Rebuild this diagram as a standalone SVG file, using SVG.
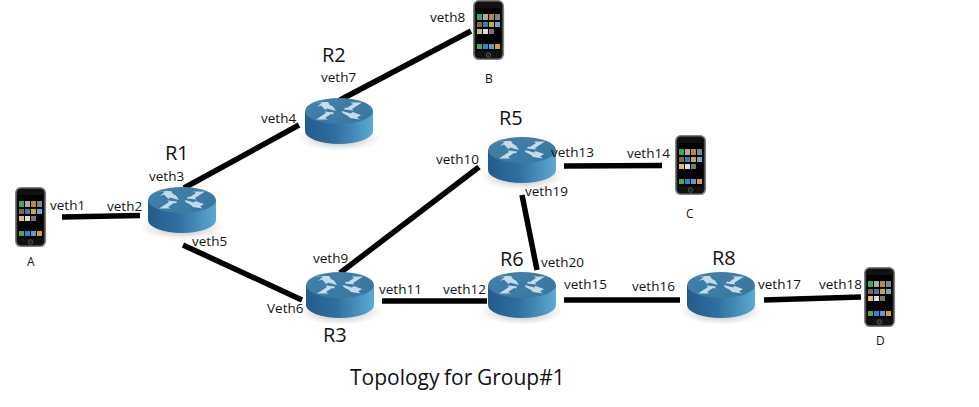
<svg xmlns="http://www.w3.org/2000/svg" width="979" height="407" viewBox="0 0 979 407">
<style>
text{font-family:"Open Sans","Liberation Sans",sans-serif;fill:#111}
.l{font-size:13.5px}.r{font-size:20px}.c{font-size:12px}.t{font-size:21px}
#connectors line{stroke:#000;stroke-width:5.5}
</style>
<defs>
<linearGradient id="side" x1="0" x2="1" y1="0" y2="0"><stop offset="0" stop-color="#245c8e"/><stop offset=".45" stop-color="#2f6f9f"/><stop offset="1" stop-color="#5caad2"/></linearGradient>
<linearGradient id="top" x1="0" x2="1" y1="0" y2="1"><stop offset="0" stop-color="#4382aa"/><stop offset="1" stop-color="#38769e"/></linearGradient>
<radialGradient id="shadow"><stop offset="0" stop-color="#777" stop-opacity=".7"/><stop offset="1" stop-color="#aaa" stop-opacity="0"/></radialGradient>
<symbol id="router" overflow="visible">
<ellipse cx="0" cy="27" rx="42" ry="13" fill="url(#shadow)"/>
<path d="M-34 0V20A34 13 0 0 0 34 20V0Z" fill="url(#side)"/>
<ellipse cx="0" cy="0" rx="34" ry="13" fill="url(#top)"/>
<g fill="#c4dcea">
<path d="M-3 0-12-2.500-13.500-1-18-5.500-22-4-17-8.500-24-9-11-9-9-6-6-4.500z"/>
<path d="M3 0 12 2.500 13.500 1 22 4 18 6.500 21 8.500 11 7 9 5 3.500 2z"/>
<path d="M-23 8.500-13 2-14.500 .5-5 1.500-6 3.500-8 3-14 7-11.500 8.500z"/>
<path d="M23-8.500 13-2 14.500-.5 5-1.500 6-3.500 8-3 14-7 11.500-8.500z"/>
</g>
</symbol>
<symbol id="phone" overflow="visible">
<rect x="0.800" y="0.800" width="29.500" height="58.500" rx="5" fill="#111" stroke="#808080" stroke-width="1.600"/>
<rect x="3" y="8" width="25" height="43" fill="#000"/>
<rect x="4" y="14" width="5" height="6" fill="#3a6"/><rect x="10" y="14" width="5" height="6" fill="#aaa"/><rect x="16" y="14" width="5" height="6" fill="#b83"/><rect x="22" y="14" width="5" height="6" fill="#789"/>
<rect x="4" y="22" width="5" height="5" fill="#864"/><rect x="10" y="22" width="5" height="5" fill="#47a"/><rect x="16" y="22" width="5" height="5" fill="#ca3"/><rect x="22" y="22" width="5" height="5" fill="#6ac"/>
<rect x="4" y="29" width="5" height="5" fill="#db7"/><rect x="10" y="29" width="5" height="5" fill="#ddd"/><rect x="16" y="29" width="5" height="5" fill="#777"/>
<rect x="4" y="44" width="5" height="5" fill="#4a5"/><rect x="10" y="44" width="5" height="5" fill="#38c"/><rect x="16" y="44" width="5" height="5" fill="#69c"/><rect x="22" y="44" width="5" height="5" fill="#d93"/>
<circle cx="15.500" cy="55" r="2.300" fill="#222" stroke="#666" stroke-width=".7"/>
</symbol>
</defs>
<rect width="979" height="407" fill="#fff"/>
<g id="connectors">
<line x1="62" y1="217" x2="140" y2="215.500"/>
<line x1="184" y1="188" x2="299" y2="125"/>
<line x1="183" y1="245" x2="302" y2="300"/>
<line x1="340" y1="100" x2="471" y2="31"/>
<line x1="340" y1="273" x2="479" y2="167"/>
<line x1="382" y1="301" x2="487" y2="301"/>
<line x1="564" y1="166" x2="662" y2="165.500"/>
<line x1="522" y1="195" x2="537" y2="270"/>
<line x1="564" y1="300" x2="680" y2="300"/>
<line x1="764" y1="300" x2="861" y2="297"/>
</g>
<g id="R1"><use href="#router" x="182" y="200"/><text class="r" x="165" y="160">R1</text></g>
<g id="R2"><use href="#router" x="339" y="111"/><text class="r" x="322" y="62">R2</text></g>
<g id="R3"><use href="#router" x="340" y="285"/><text class="r" x="323" y="342">R3</text></g>
<g id="R5"><use href="#router" x="522" y="150"/><text class="r" x="499" y="125">R5</text></g>
<g id="R6"><use href="#router" x="522" y="285"/><text class="r" x="500" y="266">R6</text></g>
<g id="R8"><use href="#router" x="721" y="285"/><text class="r" x="712" y="265">R8</text></g>
<g id="A"><use href="#phone" x="15" y="187"/><text class="c" x="27" y="266">A</text></g>
<g id="B"><use href="#phone" x="473" y="0"/><text class="c" x="485" y="83">B</text></g>
<g id="C"><use href="#phone" x="675" y="135"/><text class="c" x="686" y="218">C</text></g>
<g id="D"><use href="#phone" x="864" y="267"/><text class="c" x="876" y="345">D</text></g>
<g id="labels">
<text class="l" x="50" y="210">veth1</text>
<text class="l" x="107" y="211">veth2</text>
<text class="l" x="149" y="181">veth3</text>
<text class="l" x="261" y="123">veth4</text>
<text class="l" x="192" y="246">veth5</text>
<text class="l" x="267" y="313">Veth6</text>
<text class="l" x="321" y="82">veth7</text>
<text class="l" x="430" y="22">veth8</text>
<text class="l" x="313" y="263">veth9</text>
<text class="l" x="436" y="164">veth10</text>
<text class="l" x="379" y="294">veth11</text>
<text class="l" x="443" y="294">veth12</text>
<text class="l" x="551" y="157">veth13</text>
<text class="l" x="627" y="158">veth14</text>
<text class="l" x="564" y="289">veth15</text>
<text class="l" x="632" y="291">veth16</text>
<text class="l" x="758" y="289">veth17</text>
<text class="l" x="819" y="289">veth18</text>
<text class="l" x="525" y="196">veth19</text>
<text class="l" x="541" y="267">veth20</text>
</g>
<text class="t" x="350" y="385">Topology <tspan x="444">for</tspan> <tspan x="477">Group#1</tspan></text>
</svg>
